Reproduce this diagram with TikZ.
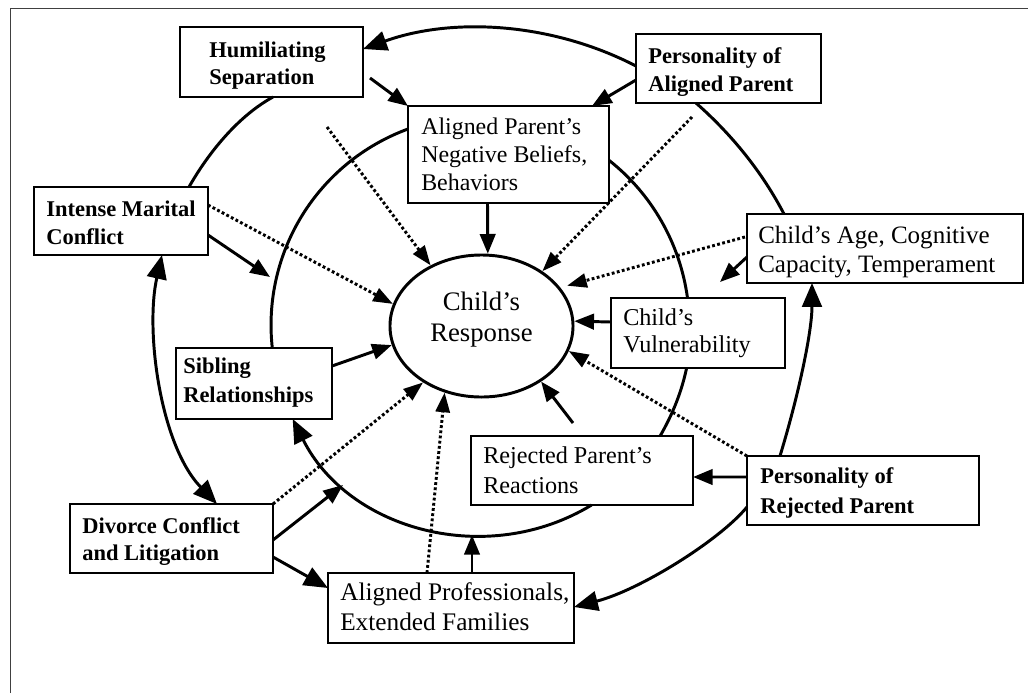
\documentclass[tikz,border=0pt]{standalone}
\usepackage{fontspec}
\setmainfont{Liberation Serif}
\usetikzlibrary{arrows.meta,calc,shapes.geometric}
\begin{document}
\begin{tikzpicture}[x=0.025cm,y=-0.025cm,
  box/.style={draw,line width=1.1pt,fill=white,rectangle,inner sep=0pt,outer sep=0pt},
  lbl/.style={anchor=base west,align=left,inner sep=0pt},
  ring/.style={line width=2.1pt},
  sarr/.style={line width=2.1pt,-{Triangle[length=14pt,width=11pt]}},
  barr/.style={line width=2.1pt,-{Triangle[length=17pt,width=14pt]}},
  dbarr/.style={line width=2.1pt,{Triangle[length=17pt,width=14pt]}-{Triangle[length=17pt,width=14pt]}},
  darr/.style={line width=2.1pt,dash pattern=on 2pt off 1.7pt,-{Triangle[length=14pt,width=10pt]}},
]
\fill[white] (0,0) rectangle (1028,693);
\useasboundingbox (0,0) rectangle (1028,693);
\draw[black!75,line width=0.7pt] (10,693) -- (10,8) -- (1028,8);

% boxes
\node[box,minimum width=4.575cm,minimum height=1.75cm] (HS) at (271.5,62) {};
\node[box,minimum width=4.625cm,minimum height=1.725cm] (PA) at (728.5,68.5) {};
\node[box,minimum width=5.025cm,minimum height=2.425cm] (AP) at (508.5,154.5) {};
\node[box,minimum width=4.35cm,minimum height=1.7cm] (IM) at (121,221) {};
\node[box,minimum width=6.9cm,minimum height=1.725cm] (CA) at (885,248.5) {};
\node[box,minimum width=4.35cm,minimum height=1.75cm] (CV) at (698,333) {};
\node[box,minimum width=3.9cm,minimum height=1.775cm] (SR) at (254,383.5) {};
\node[box,minimum width=5.55cm,minimum height=1.725cm] (RR) at (582,470.5) {};
\node[box,minimum width=5.8cm,minimum height=1.725cm] (PR) at (863,490.5) {};
\node[box,minimum width=5.075cm,minimum height=1.725cm] (DC) at (171.5,538.5) {};
\node[box,minimum width=6.15cm,minimum height=1.75cm] (APF) at (451,608) {};
\node[ellipse,draw,line width=2.1pt,minimum width=4.575cm,minimum height=3.55cm,inner sep=0pt] (CR) at (481.5,326) {};

% texts (base = baseline of the last line)
\node[lbl,font=\fontsize{16}{19.2}\selectfont\bfseries] (HSt) at ($(HS.north west)+(29,58)$) {Humiliating\\Separation};
\node[lbl,font=\fontsize{16}{20.5}\selectfont\bfseries] (PAt) at ($(PA.north west)+(12,58)$) {Personality of\\Aligned Parent};
\node[lbl,font=\fontsize{17}{20}\selectfont] (APt) at ($(AP.north west)+(13,85)$) {Aligned Parent’s\\Negative Beliefs,\\Behaviors};
\node[lbl,font=\fontsize{16}{20}\selectfont\bfseries] (IMt) at ($(IM.north west)+(12,58)$) {Intense Marital\\Conflict};
\node[lbl,font=\fontsize{17.8}{21}\selectfont] (CAt) at ($(CA.north west)+(11,59)$) {Child’s Age, Cognitive\\Capacity, Temperament};
\node[lbl,font=\fontsize{17.2}{19.5}\selectfont] (CVt) at ($(CV.north west)+(12,55)$) {Child’s\\Vulnerability};
\node[lbl,font=\fontsize{16}{20.5}\selectfont\bfseries] (SRt) at ($(SR.north west)+(7,54)$) {Sibling\\Relationships};
\node[lbl,font=\fontsize{17.2}{21}\selectfont] (RRt) at ($(RR.north west)+(12,57)$) {Rejected Parent’s\\Reactions};
\node[lbl,font=\fontsize{16}{21}\selectfont\bfseries] (PRt) at ($(PR.north west)+(13,57)$) {Personality of\\Rejected Parent};
\node[lbl,font=\fontsize{16}{19.2}\selectfont\bfseries] (DCt) at ($(DC.north west)+(12,56)$) {Divorce Conflict\\and Litigation};
\node[lbl,font=\fontsize{18}{21}\selectfont] (APFt) at ($(APF.north west)+(12,57)$) {Aligned Professionals,\\Extended Families};
\node[anchor=base,align=center,inner sep=0pt,font=\fontsize{19}{22}\selectfont] (CRt) at (481.5,341) {Child’s\\Response};

% free ends
\coordinate (c4) at (270,277);
\coordinate (c6) at (720,282);
\coordinate (c8) at (573,423);
\coordinate (c10) at (343,485);
\coordinate (c12) at (472,535);
\coordinate (c23) at (327,127);
\coordinate (c25) at (692,117);

% outer ring
\draw[barr] ($(PA.west)+(0,-2.5)$) .. controls (551,22) and (452,17) .. ($(HS.east)+(0,-13)$);
\draw[ring] ($(PA.south)+(-32.5,0)$) .. controls (732.6,135.2) and (762.7,173) .. ($(CA.north)+(-101,0)$);
\draw[barr] ($(PR.north)+(-83,0)$) .. controls (800,390) and (812,330) .. ($(CA.south)+(-73,0)$);
\draw[barr] ($(PR.west)+(0,16.5)$) .. controls (720,540) and (640,590) .. ($(APF.east)+(0,-1)$);
\draw[ring] ($(HS.south)+(1.5,0)$) .. controls (240,115) and (210,150) .. ($(IM.north)+(68,0)$);
\draw[dbarr] ($(IM.south)+(41,0)$) .. controls (145,330) and (160,445) .. ($(DC.north)+(45.5,0)$);

% inner ring
\draw[ring] ($(AP.west)+(0,-25.5)$) .. controls (317.5,162.3) and (261.8,252.5) .. ($(SR.north)+(18.3,0)$);
\draw[ring] ($(AP.east)+(0,5.8)$) .. controls (651.8,194) and (680,243.2) .. ($(CV.north)+(-10.5,0)$);
\draw[ring] ($(CV.south)+(-11.4,0)$) .. controls (681.7,391.4) and (672.7,414.3) .. ($(RR.north)+(78.1,0)$);
\draw[barr] ($(RR.south)+(9.6,0)$) .. controls (487,568.5) and (348.6,530.1) .. ($(SR.south)+(38.7,0)$);

% solid arrows
\draw[sarr] ($(HS.east)+(7,16)$) -- (AP.north west);
\draw[sarr] ($(PA.west)+(0,11.5)$) -- ($(AP.north)+(83.5,0)$);
\draw[sarr] ($(AP.south)+(-21,0)$) -- (CR.85);
\draw[sarr] ($(IM.east)+(0,14)$) -- (c4);
\draw[sarr] ($(SR.east)+(0,-17.5)$) -- (CR.192);
\draw[sarr] ($(CA.west)+(0,8.5)$) -- (c6);
\draw[sarr] ($(CV.west)+(0,-11)$) -- (CR.3);
\draw[sarr] (c8) -- (CR.317);
\draw[sarr] ($(PR.west)+(0,-13.5)$) -- ($(RR.east)+(0,6.5)$);
\draw[sarr] ($(DC.east)+(0,1.5)$) -- (c10);
\draw[barr] ($(DC.east)+(0,18.5)$) -- ($(APF.west)+(0,-20)$);
\draw[sarr] ($(APF.north)+(21,0)$) -- (c12);

% dotted arrows
\draw[darr] (c23) -- (CR.130);
\draw[darr] ($(IM.east)+(0,-16)$) -- (CR.166);
\draw[darr] (c25) -- (CR.42);
\draw[darr,shorten >=5pt] ($(CA.west)+(-2,-11.5)$) -- (CR.26);
\draw[darr] (PR.north west) -- (CR.344);
\draw[darr] (DC.north east) -- (CR.224);
\draw[darr] ($(APF.north)+(-24,0)$) -- (CR.241);
\end{tikzpicture}
\end{document}
